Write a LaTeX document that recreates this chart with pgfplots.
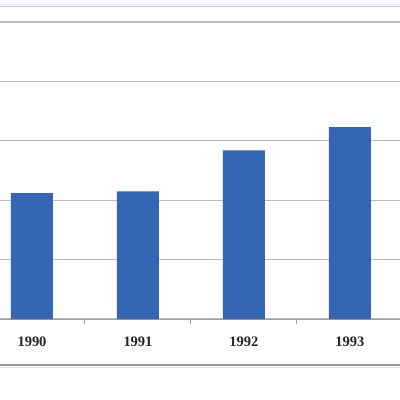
\documentclass[border=0pt]{standalone}
\usepackage{pgfplots}
\pgfplotsset{compat=1.18}
\usepackage{fontspec}
\setmainfont{Liberation Serif}
\definecolor{barblue}{HTML}{3566B4}
\definecolor{gridgray}{HTML}{BDBDBD}
\definecolor{axisgray}{HTML}{9E9E9E}
\definecolor{frameblue}{HTML}{B9C2D3}
\definecolor{lightblue}{HTML}{CFE6F2}
\begin{document}
\begin{tikzpicture}[x=1pt,y=1pt]
\useasboundingbox (0,0) rectangle (400,400);
\clip (0,0) rectangle (400,400);
\fill[white] (0,0) rectangle (400,400);
\draw[lightblue, line width=0.8pt] (0,395.2) -- (400,395.2);
\draw[frameblue, line width=1.2pt] (0,393.6) -- (400,393.6);
\draw[gridgray!80!black, line width=1.2pt] (0,35) -- (400,35);
\draw[lightblue, line width=0.9pt] (0,32.2) -- (400,32.2);
\begin{axis}[
  at={(-21pt,81pt)}, anchor=south west,
  scale only axis, width=424pt, height=297pt,
  xmin=-0.5, xmax=3.5, ymin=0, ymax=5,
  axis x line*=bottom, axis y line*=left,
  axis line style={axisgray, line width=1pt, -},
  ybar, bar width=42pt,
  xtick={0,1,2,3},
  xticklabels={1990,1991,1992,1993},
  major tick length=0pt,
  minor xtick={-0.5,0.5,1.5,2.5,3.5},
  minor tick length=5pt,
  tick align=outside,
  minor tick style={axisgray, line width=1pt},
  xticklabel style={font=\fontsize{14.5}{16}\selectfont\bfseries, text=black!85, yshift=-14pt},
  ytick={0,1,2,3,4,5}, yticklabels={},
  ymajorgrids, grid style={gridgray, line width=1.2pt},
  clip=false,
]
\addplot[fill=barblue, draw=none] coordinates {(0,2.12) (1,2.15) (2,2.84) (3,3.23)};
\end{axis}
\end{tikzpicture}
\end{document}
